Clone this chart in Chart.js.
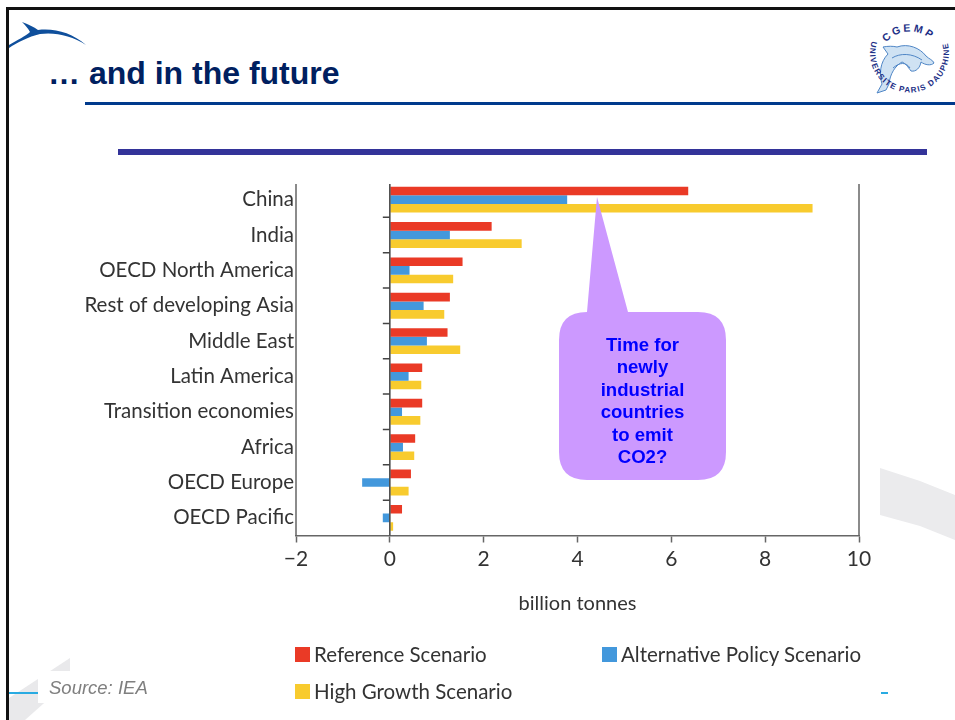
<!DOCTYPE html>
<html>
<head>
<meta charset="utf-8">
<title>... and in the future</title>
<script src="https://cdn.jsdelivr.net/npm/chart.js@4/dist/chart.umd.min.js"></script>
<style>
    html, body { margin: 0; padding: 0; background: #fff; overflow: hidden; }
    #slide { position: relative; width: 955px; height: 720px; overflow: hidden; }
    #slide > svg, #chartWrap { position: absolute; left: 0; top: 0; width: 955px; height: 720px; }
    .legendItem { position: absolute; display: flex; align-items: center; font: 20.5px Lato, sans-serif; color: #333; white-space: nowrap; }
    .legendItem i { display: block; width: 15px; height: 15px; margin-right: 4px; }
</style>
</head>
<body>
<div id="slide">
    <!-- slide background: frame, rules and watermark shapes -->
    <svg viewBox="0 0 955 720">
        <polygon points="880,468 920,481 955,495 955,540 920,526 880,515" fill="#ebebed"/>
        <polygon points="70,658 70,680 25,720 9,720 9,698" fill="#e9e9eb"/>
        <rect x="38" y="671" width="112" height="32" fill="#fff"/>
        <rect x="9" y="692" width="29" height="2" fill="#29abe2"/>
        <rect x="881" y="692" width="7" height="2" fill="#29abe2"/>
        <rect x="6" y="7" width="949" height="3" fill="#111"/>
        <rect x="6" y="7" width="3" height="713" fill="#111"/>
        <path d="M22,22 C28,24 34,27 38,30 C55,28 72,33 86,45 C72,36 56,32 40,34 C28,37 18,42 9,48 L9,45 C17,40 26,36 30,32 C28,28 25,25 22,22 Z" fill="#0f4f9c"/>
        <text x="48" y="84" font-family="'Liberation Sans'" font-weight="bold" font-size="32" fill="#002060">… and in the future</text>
        <rect x="85" y="102" width="870" height="3" fill="#003a8c"/>
        <rect x="118" y="149" width="809" height="6" fill="#333399"/>

        <!-- CGEMP roundel: dolphin first, lettering on top -->
        <defs>
            <path id="arcTop" d="M881,50 A32,32 0 0 1 939,50"/>
            <path id="arcSide" d="M871.9,41 A39.5,39.5 0 1 0 947.1,41"/>
        </defs>
        <path d="M877,93 L882,84 C879,74 880,62 888,54 L883,47 C888,46 893,46 897,47 C908,43 920,48 926,56 C929,59 933,60 934,63 C931,66 925,65 921,62 C920,68 916,72 911,71 C908,67 905,63 902,62 C895,66 890,74 889,84 L886,90 Z" fill="#cfe2f3" stroke="#4f86c6" stroke-width="1"/>
        <path d="M892,58 C900,53 912,53 922,60 M893,68 C900,62 906,62 910,68" fill="none" stroke="#4f86c6" stroke-width="1"/>
        <text font-family="'Liberation Sans'" font-weight="bold" font-size="10.5" fill="#1d2f86" letter-spacing="2.5"><textPath href="#arcTop" startOffset="9">CGEMP</textPath></text>
        <text font-family="'Liberation Sans'" font-weight="bold" font-size="8" fill="#1d2f86"><textPath href="#arcSide" textLength="146">UNIVERSITE PARIS DAUPHINE</textPath></text>
    </svg>

    <div id="chartWrap"><canvas id="scenarioChart" width="955" height="720"></canvas></div>

    <!-- speech bubble over the bars -->
    <svg viewBox="0 0 955 720">
        <path d="M587,312 L597,197 L628,312 L698,312 Q726,312 726,340 L726,452 Q726,480 698,480 L587,480 Q559,480 559,452 L559,340 Q559,312 587,312 Z" fill="#cc99ff"/>
        <g id="bubbleText" font-family="'Liberation Sans'" font-weight="bold" font-size="18.6" fill="#0000ff" text-anchor="middle"></g>
        <text x="49" y="694" font-family="'Liberation Sans'" font-style="italic" font-size="18.5" fill="#7f7f7f">Source: IEA</text>
    </svg>

    <div id="legend"></div>
</div>

<script>
    const regions = ['China', 'India', 'OECD North America', 'Rest of developing Asia', 'Middle East',
        'Latin America', 'Transition economies', 'Africa', 'OECD Europe', 'OECD Pacific'];

    // billion tonnes
    const referenceScenario = [6.36, 2.17, 1.55, 1.28, 1.23, 0.69, 0.69, 0.54, 0.45, 0.26];
    const alternativeScenario = [3.78, 1.28, 0.42, 0.72, 0.79, 0.40, 0.26, 0.28, -0.59, -0.15];
    const highGrowthScenario = [9.01, 2.81, 1.35, 1.16, 1.50, 0.67, 0.65, 0.52, 0.40, 0.07];

    const seriesNames = ['Reference Scenario', 'Alternative Policy Scenario', 'High Growth Scenario'];
    const seriesColors = ['#ea3a26', '#4398dc', '#f8cb2e'];
    const bubbleLines = ['Time for', 'newly', 'industrial', 'countries', 'to emit', 'CO2?'];

    const labelFont = "Lato, sans-serif";
    const inkColor = '#333';
    const axisColor = '#666';

    Chart.defaults.font.family = labelFont;
    Chart.defaults.color = inkColor;
    Chart.defaults.animation = false;

    // side rules and the zero line with its category ticks
    const frameLines = {
        id: 'frameLines',
        afterDatasetsDraw(chart) {
            const { ctx, chartArea, scales: { x, y } } = chart;
            const top = chartArea.top + 2;
            const zero = x.getPixelForValue(0);
            const step = y.getPixelForTick(1) - y.getPixelForTick(0);
            ctx.save();
            ctx.lineWidth = 1.5;
            ctx.strokeStyle = axisColor;
            ctx.beginPath();
            ctx.moveTo(chartArea.left, top);
            ctx.lineTo(chartArea.left, chartArea.bottom);
            ctx.moveTo(chartArea.right, top);
            ctx.lineTo(chartArea.right, chartArea.bottom);
            ctx.stroke();
            ctx.strokeStyle = '#444';
            ctx.beginPath();
            ctx.moveTo(zero, top);
            ctx.lineTo(zero, chartArea.bottom);
            for (let i = 0; i < regions.length - 1; i++) {
                const tickY = y.getPixelForTick(i) + step / 2;
                ctx.moveTo(zero, tickY);
                ctx.lineTo(zero - 7, tickY);
            }
            ctx.stroke();
            ctx.restore();
        }
    };

    new Chart(document.getElementById('scenarioChart'), {
        type: 'bar',
        data: {
            labels: regions,
            datasets: [referenceScenario, alternativeScenario, highGrowthScenario].map((values, i) => ({
                label: seriesNames[i],
                data: values,
                backgroundColor: seriesColors[i],
                categoryPercentage: 0.73,
                barPercentage: 1
            }))
        },
        options: {
            indexAxis: 'y',
            responsive: false,
            layout: { padding: { left: 0, right: 96, top: 182, bottom: 104.5 } },
            plugins: { legend: { display: false }, tooltip: { enabled: false } },
            scales: {
                x: {
                    min: -2,
                    max: 10,
                    afterFit: scale => { scale.height = 80; },
                    grid: { drawOnChartArea: false, tickLength: 7, tickColor: axisColor, tickWidth: 1.5 },
                    border: { color: axisColor, width: 1.5 },
                    ticks: {
                        stepSize: 2,
                        padding: 4,
                        maxRotation: 0,
                        color: inkColor,
                        font: { size: 21 },
                        callback: v => String(v).replace('-', '\u2212')
                    },
                    title: {
                        display: true,
                        text: 'billion tonnes',
                        color: inkColor,
                        font: { size: 20 },
                        padding: 0
                    }
                },
                y: {
                    afterFit: scale => { scale.width = 296; },
                    grid: { display: false, drawTicks: false },
                    border: { display: false },
                    ticks: { padding: 2, autoSkip: false, color: inkColor, font: { size: 20.5 } }
                }
            }
        },
        plugins: [frameLines]
    });

    // callout text
    const bubbleText = document.getElementById('bubbleText');
    bubbleLines.forEach((line, i) => {
        const t = document.createElementNS('http://www.w3.org/2000/svg', 'text');
        t.setAttribute('x', 642.5);
        t.setAttribute('y', 351 + i * 22.4);
        t.textContent = line;
        bubbleText.appendChild(t);
    });

    // legend laid out in two columns
    const legendSpots = [[295, 642], [602, 642], [295, 679]];
    const legend = document.getElementById('legend');
    seriesNames.forEach((name, i) => {
        const item = document.createElement('div');
        item.className = 'legendItem';
        item.style.left = legendSpots[i][0] + 'px';
        item.style.top = legendSpots[i][1] + 'px';
        item.innerHTML = `<i style="background:${seriesColors[i]}"></i>${name}`;
        legend.appendChild(item);
    });
</script>
</body>
</html>
